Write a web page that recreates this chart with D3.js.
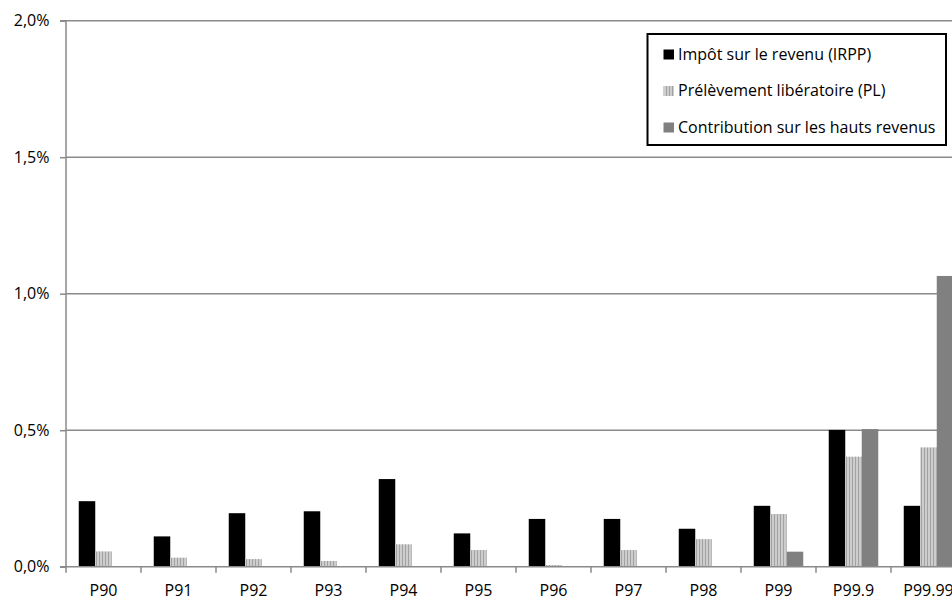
<!DOCTYPE html>
<html>
<head>
<meta charset="utf-8">
<script src="https://cdn.jsdelivr.net/npm/d3@7"></script>
<style>
  html, body { margin: 0; padding: 0; background: #fff; overflow: hidden; }
  svg { display: block; }
  text { font-family: "Open Sans", "Lato", sans-serif; fill: #000; }
</style>
</head>
<body>
<svg id="chart" width="952" height="597"></svg>
<script>
const categories = ["P90", "P91", "P92", "P93", "P94", "P95", "P96", "P97", "P98", "P99", "P99.9", "P99.99"];
const seriesNames = ["Impôt sur le revenu (IRPP)", "Prélèvement libératoire (PL)", "Contribution sur les hauts revenus"];
const irpp = [0.00240, 0.00111, 0.00196, 0.00203, 0.00321, 0.00122, 0.00175, 0.00175, 0.00139, 0.00223, 0.00501, 0.00223];
const pl   = [0.00056, 0.00033, 0.00028, 0.00021, 0.00082, 0.00061, 0.00006, 0.00061, 0.00101, 0.00193, 0.00403, 0.00437];
const chr  = [0, 0, 0, 0, 0, 0, 0, 0, 0, 0.00055, 0.00504, 0.01065];
const yTicks = [0, 0.005, 0.01, 0.015, 0.02];

const FONT = 16;
const svg = d3.select("#chart");
const pLeft = 66, pRight = 966, pTop = 20.7, pBottom = 566.7;

const defs = svg.append("defs");
const pat = defs.append("pattern").attr("id", "stripes").attr("patternUnits", "userSpaceOnUse")
  .attr("width", 3).attr("height", 4);
pat.append("rect").attr("width", 3).attr("height", 4).attr("fill", "#cdcdcd");
pat.append("rect").attr("x", 0).attr("width", 1).attr("height", 4).attr("fill", "#a2a2a2");

const fills = ["#000000", "url(#stripes)", "#808080"];

const x = d3.scaleBand().domain(categories).range([pLeft, pRight]).padding(0);
const xs = d3.scaleBand().domain([0, 1, 2]).range([12.75, x.bandwidth() - 12.75]).padding(0);
const y = d3.scaleLinear().domain([0, 0.02]).range([pBottom, pTop]);

const locale = d3.formatLocale({decimal: ",", thousands: " ", grouping: [3], currency: ["", "€"]});
const fmt = locale.format(".1%");

// gridlines
svg.append("g").selectAll("line").data(yTicks.filter(d => d > 0)).join("line")
  .attr("x1", pLeft).attr("x2", pRight)
  .attr("y1", d => y(d)).attr("y2", d => y(d))
  .attr("stroke", "#8a8a8a").attr("stroke-width", 1.5);

// bars
const data = [irpp, pl, chr];
const rows = [];
categories.forEach((c, i) => data.forEach((s, k) => rows.push({c, k, v: s[i]})));
svg.append("g").selectAll("rect").data(rows.filter(d => d.v > 0)).join("rect")
  .attr("x", d => x(d.c) + xs(d.k))
  .attr("width", xs.bandwidth())
  .attr("y", d => y(d.v))
  .attr("height", d => y(0) - y(d.v))
  .attr("fill", d => fills[d.k]);

// y axis
const yAxis = d3.axisLeft(y).tickValues(yTicks).tickFormat(fmt).tickSize(6).tickPadding(10.5);
const gy = svg.append("g").attr("transform", `translate(${pLeft},0)`).call(yAxis);
gy.select(".domain").attr("stroke", "#8a8a8a").attr("stroke-width", 1.5).attr("d", `M-6,${pTop}H0V${pBottom}H-6`);
gy.selectAll(".tick line").attr("stroke", "#8a8a8a").attr("stroke-width", 1.5);
gy.selectAll(".tick text").attr("font-size", FONT).attr("font-family", "'Open Sans', sans-serif").attr("fill", "#000");

// x axis baseline and ticks at category boundaries
svg.append("line").attr("x1", pLeft).attr("x2", pRight).attr("y1", pBottom).attr("y2", pBottom)
  .attr("stroke", "#8a8a8a").attr("stroke-width", 1.5);
const bounds = categories.map(c => x(c)).concat([pRight]);
svg.append("g").selectAll("line").data(bounds).join("line")
  .attr("x1", d => d).attr("x2", d => d).attr("y1", pBottom).attr("y2", pBottom + 6)
  .attr("stroke", "#8a8a8a").attr("stroke-width", 1.5);
svg.append("g").selectAll("text").data(categories).join("text")
  .attr("x", d => x(d) + x.bandwidth() / 2).attr("y", 596)
  .attr("text-anchor", "middle").attr("font-size", FONT).text(d => d);

// legend
const lg = svg.append("g");
lg.append("rect").attr("x", 647.5).attr("y", 34).attr("width", 298.5).attr("height", 111)
  .attr("fill", "#fff").attr("stroke", "#000").attr("stroke-width", 2);
const lb = [59.5, 96, 132.5];
seriesNames.forEach((n, k) => {
  lg.append("rect").attr("x", 663.5).attr("y", lb[k] - 10).attr("width", 10.5).attr("height", 10).attr("fill", fills[k]);
  lg.append("text").attr("x", 678).attr("y", lb[k]).attr("font-size", FONT).text(n);
});
</script>
</body>
</html>
